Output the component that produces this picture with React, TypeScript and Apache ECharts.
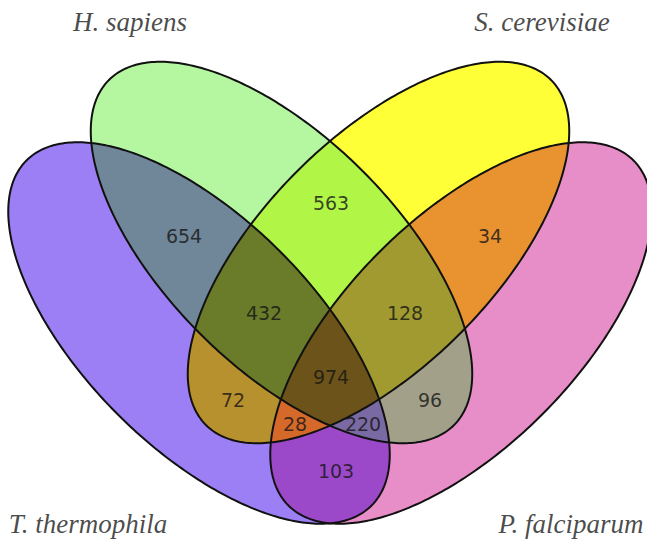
import React, { useEffect, useRef } from 'react';
import * as echarts from 'echarts';

// ---- data ----
const setNames = ['H. sapiens', 'S. cerevisiae', 'T. thermophila', 'P. falciparum'];
// region membership (indices into setNames), ordered by number of sets
const regionSets = [
  [0], [1], [2], [3],
  [0, 1], [0, 2], [0, 3], [1, 2], [1, 3], [2, 3],
  [0, 1, 2], [0, 1, 3], [0, 2, 3], [1, 2, 3],
  [0, 1, 2, 3],
];
const regionCounts = [null, null, null, null, 563, 654, 96, 72, 34, 103, 432, 128, 220, 28, 974];

// ---- layout / style ----
const ellipses = [
  { cx: 281.5, cy: 252.5, rx: 244, ry: 115, angle: 45 },
  { cx: 378.5, cy: 252.5, rx: 244, ry: 115, angle: -45 },
  { cx: 199, cy: 333, rx: 244, ry: 115, angle: 45 },
  { cx: 461, cy: 333, rx: 244, ry: 115, angle: -45 },
];
const regionColors = [
  '#b5f7a1', '#ffff38', '#9c7ef5', '#e78dc7',
  '#b1f547', '#708699', '#a3a08a', '#b8912f', '#e8932f', '#9b49c9',
  '#6a7b2a', '#a09a30', '#7a6aa3', '#d4692a',
  '#6b5319',
];
const regionLabelPos = [
  null, null, null, null,
  [331, 203], [184, 236], [430, 400], [233, 400], [490, 236], [336, 471],
  [264, 313], [405, 313], [363, 424], [295, 424],
  [331, 377],
];
const setLabelPos = [[130, 22], [542, 22], [88, 524], [571, 524]];

function ellipsePoints(e: any, n = 360) {
  const pts: number[][] = [];
  const phi = (e.angle * Math.PI) / 180;
  const c = Math.cos(phi), s = Math.sin(phi);
  for (let i = 0; i < n; i++) {
    const t = (2 * Math.PI * i) / n;
    const x = e.rx * Math.cos(t), y = e.ry * Math.sin(t);
    pts.push([e.cx + x * c - y * s, e.cy + x * s + y * c]);
  }
  return pts;
}

function signedArea(p: number[][]) {
  let a = 0;
  for (let i = 0; i < p.length; i++) {
    const q = p[(i + 1) % p.length];
    a += p[i][0] * q[1] - q[0] * p[i][1];
  }
  return a / 2;
}

function clipPoly(subject: number[][], clipper: number[][]) {
  let output = subject;
  const sg = signedArea(clipper) > 0 ? 1 : -1;
  for (let i = 0; i < clipper.length; i++) {
    const A = clipper[i], B = clipper[(i + 1) % clipper.length];
    const input = output;
    output = [];
    if (!input.length) break;
    const side = (p: number[]) => sg * ((B[0] - A[0]) * (p[1] - A[1]) - (B[1] - A[1]) * (p[0] - A[0]));
    for (let j = 0; j < input.length; j++) {
      const P = input[j], Q = input[(j + 1) % input.length];
      const sp = side(P), sq = side(Q);
      if (sp >= 0) {
        output.push(P);
        if (sq < 0) {
          const t = sp / (sp - sq);
          output.push([P[0] + t * (Q[0] - P[0]), P[1] + t * (Q[1] - P[1])]);
        }
      } else if (sq >= 0) {
        const t = sp / (sp - sq);
        output.push([P[0] + t * (Q[0] - P[0]), P[1] + t * (Q[1] - P[1])]);
      }
    }
  }
  return output;
}

export default function App() {
  const ref = useRef<HTMLDivElement>(null);
  useEffect(() => {
    if (!ref.current) return;
    const chart = echarts.init(ref.current, undefined, { renderer: 'svg' });
    const ellPts = ellipses.map((e) => ellipsePoints(e));
    const regionPolys = regionSets.map((s) => {
      let poly = ellPts[s[0]];
      for (let k = 1; k < s.length; k++) poly = clipPoly(poly, ellPts[s[k]]);
      return poly;
    });

    const numberData: any[] = [];
    regionCounts.forEach((v, i) => {
      if (v != null && regionLabelPos[i]) numberData.push([regionLabelPos[i]![0], regionLabelPos[i]![1], v]);
    });
    const nameData = setNames.map((n, i) => ({ value: [setLabelPos[i][0], setLabelPos[i][1]], name: n }));

    chart.setOption({
      animation: false,
      backgroundColor: '#ffffff',
      grid: { left: 0, right: 0, top: 0, bottom: 0 },
      xAxis: { type: 'value', min: 0, max: 647, show: false },
      yAxis: { type: 'value', min: 0, max: 540, inverse: true, show: false },
      series: [
        {
          type: 'custom',
          coordinateSystem: 'cartesian2d',
          silent: true,
          z: 1,
          data: regionSets.map((_, i) => [i, 0]),
          renderItem: (params: any, api: any) => {
            const i = params.dataIndex;
            const pts = regionPolys[i].map((p) => api.coord(p));
            return {
              type: 'polygon',
              shape: { points: pts },
              style: { fill: regionColors[i], stroke: regionColors[i], lineWidth: 0.6 },
            };
          },
        },
        {
          type: 'custom',
          coordinateSystem: 'cartesian2d',
          silent: true,
          z: 2,
          data: ellipses.map((_, i) => [i, 0]),
          renderItem: (params: any, api: any) => {
            const pts = ellPts[params.dataIndex].map((p) => api.coord(p));
            return {
              type: 'polygon',
              shape: { points: pts },
              style: { fill: 'none', stroke: '#111111', lineWidth: 2 },
            };
          },
        },
        {
          type: 'scatter',
          z: 3,
          symbolSize: 0,
          silent: true,
          data: numberData,
          label: {
            show: true,
            position: 'inside',
            formatter: (p: any) => String(p.value[2]),
            fontFamily: 'DejaVu Sans',
            fontSize: 19,
            color: '#141414',
          },
        },
        {
          type: 'scatter',
          z: 3,
          symbolSize: 0,
          silent: true,
          data: nameData,
          label: {
            show: true,
            position: 'inside',
            formatter: (p: any) => p.name,
            fontFamily: 'Liberation Serif',
            fontStyle: 'italic',
            fontSize: 27,
            color: '#1a1a1a',
          },
        },
      ],
    });
    return () => chart.dispose();
  }, []);
  return (
    <div
      ref={ref}
      style={{ position: 'absolute', left: 0, top: 0, width: 647, height: 540 }}
    />
  );
}
